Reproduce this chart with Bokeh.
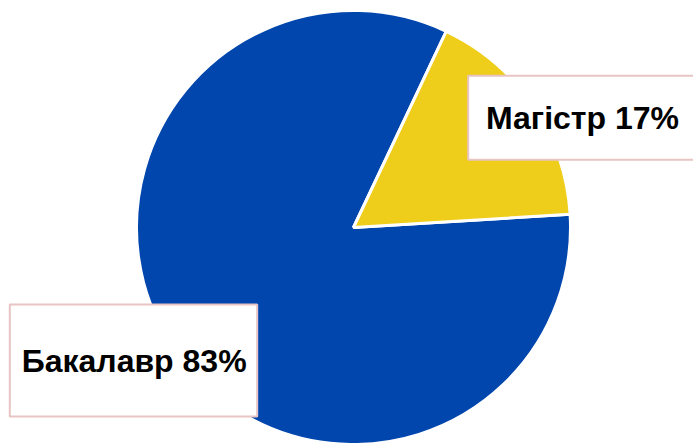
import math
from bokeh.plotting import figure
from bokeh.models import Range1d, ColumnDataSource
from bokeh.core.properties import value
from bokeh.embed import file_html
from bokeh.resources import INLINE

# data
labels = ["Бакалавр", "Магістр"]
values = [83, 17]
colors = ["#0046AD", "#EFCD1B"]

W, H = 693, 443
p = figure(width=W, height=H, output_backend="svg", toolbar_location=None,
           x_range=Range1d(0, W), y_range=Range1d(0, H),
           min_border=0)
p.axis.visible = False
p.grid.visible = False
p.outline_line_color = None
p.background_fill_color = "white"
p.border_fill_color = "white"

# pie (screen y -> data y = H - y)
cx, cy, r = 353, H - 227, 217
start0 = math.radians(64.7)
total = sum(values)
starts, ends = [], []
a = start0
for v in values:
    starts.append(a)
    a += v / total * 2 * math.pi
    ends.append(a)

src = ColumnDataSource(dict(start=starts, end=ends, color=colors))
p.wedge(x=cx, y=cy, radius=r, start_angle="start", end_angle="end",
        direction="anticlock", fill_color="color", line_color="white",
        line_width=3, source=src)

# label boxes
box_l = [9.3, 467.7]
box_r = [256.7, 720]
box_t = [H - 304, H - 75.3]
box_b = [H - 416, H - 159.3]
p.quad(left=box_l, right=box_r, top=box_t, bottom=box_b,
       fill_color="white", line_color="#E8C4C4", line_width=2)

texts = [f"{l} {v}%" for l, v in zip(labels, values)]
tx = [21.2, 485.5]
ty = [H - 360.5, H - 117.5]
p.text(x=tx, y=ty, text=texts, text_font=value("Liberation Sans"),
       text_font_style="bold", text_font_size="32px", text_color="black",
       text_align="left", text_baseline="middle")

open("out.html", "w").write(file_html(p, INLINE))
